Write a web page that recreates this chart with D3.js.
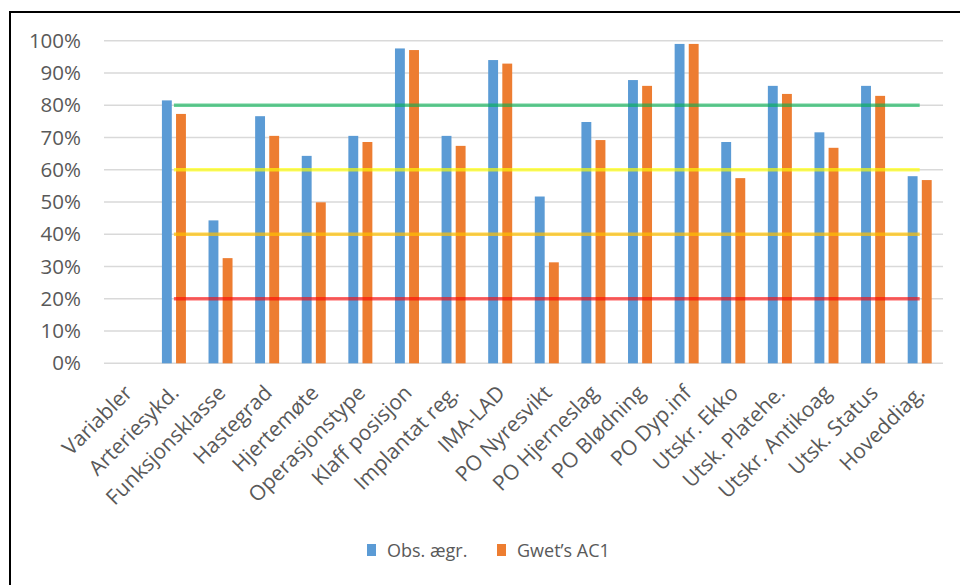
<!DOCTYPE html>
<html>
<head>
<meta charset="utf-8">
<script src="https://cdn.jsdelivr.net/npm/d3@7"></script>
<style>
  html, body { margin: 0; padding: 0; background: #fff; }
  svg { display: block; }
  text { font-family: "Open Sans", sans-serif; fill: #595959; }
</style>
</head>
<body>
<svg id="chart" width="960" height="585"></svg>
<script>
// Variables reviewed for inter-rater agreement
const categories = ["Variabler", "Arteriesykd.", "Funksjonsklasse", "Hastegrad", "Hjertemøte",
  "Operasjonstype", "Klaff posisjon", "Implantat reg.", "IMA-LAD", "PO Nyresvikt",
  "PO Hjerneslag", "PO Blødning", "PO Dyp.inf", "Utskr. Ekko", "Utsk. Platehe.",
  "Utskr. Antikoag", "Utsk. Status", "Hoveddiag."];
// Observed agreement (%), null where no value
const obsAgr = [null, 81.5, 44.3, 76.6, 64.3, 70.5, 97.6, 70.5, 94.0, 51.7,
  74.8, 87.8, 99.0, 68.6, 86.0, 71.6, 86.0, 58.0];
// Gwet's AC1 (%)
const gwetAC1 = [null, 77.3, 32.6, 70.5, 49.9, 68.6, 97.1, 67.4, 92.9, 31.3,
  69.2, 86.0, 99.0, 57.4, 83.5, 66.8, 82.9, 56.8];
const seriesNames = ["Obs. ægr.", "Gwet’s AC1"];
const seriesColors = ["#5b9bd5", "#ed7d31"];
// Agreement threshold lines
const thresholds = [80, 60, 40, 20];
const thresholdColors = ["rgba(0,176,80,0.6)", "rgba(255,255,0,0.65)", "rgba(255,192,0,0.7)", "rgba(255,0,0,0.6)"];
const yTicks = [0, 10, 20, 30, 40, 50, 60, 70, 80, 90, 100];

const svg = d3.select("#chart");

// Outer frame
svg.append("rect")
  .attr("x", 10).attr("y", 12)
  .attr("width", 1000).attr("height", 700)
  .attr("fill", "none").attr("stroke", "#000").attr("stroke-width", 2);

const plot = { left: 104, right: 943, top: 40.7, bottom: 363.3 };

const x = d3.scaleBand().domain(categories).range([plot.left, plot.right]).padding(0);
const y = d3.scaleLinear().domain([0, 100]).range([plot.bottom, plot.top]);

// Horizontal gridlines
svg.append("g").selectAll("line").data(yTicks).join("line")
  .attr("x1", plot.left).attr("x2", plot.right)
  .attr("y1", d => y(d)).attr("y2", d => y(d))
  .attr("stroke", "#d9d9d9").attr("stroke-width", 1.5);

// Y axis labels
const yAxis = d3.axisLeft(y).tickValues(yTicks).tickFormat(d => d + "%").tickSize(0).tickPadding(0);
const yg = svg.append("g").attr("transform", "translate(81,0)").call(yAxis);
yg.select(".domain").remove();
yg.selectAll("text").style("font-size", "20.5px").attr("fill", "#595959")
  .style("font-family", "'Open Sans', sans-serif");

// Grouped bars
const x1 = d3.scaleBand().domain([0, 1]).paddingInner(0.3).paddingOuter(0);
const rows = categories.map((c, i) => ({ cat: c, vals: [obsAgr[i], gwetAC1[i]] }));
const groups = svg.append("g").selectAll("g").data(rows).join("g")
  .attr("transform", d => `translate(${x(d.cat)},0)`);
x1.range([x.bandwidth() / 2 - 12, x.bandwidth() / 2 + 12]);
groups.selectAll("rect")
  .data(d => d.vals.map((v, k) => ({ v, k })).filter(e => e.v != null))
  .join("rect")
  .attr("x", e => x1(e.k))
  .attr("width", x1.bandwidth())
  .attr("y", e => y(e.v))
  .attr("height", e => y(0) - y(e.v))
  .attr("fill", e => seriesColors[e.k]);

// Threshold lines across the reviewed variables
const lineCats = categories.slice(1);
const line = d3.line().x(d => x(d[0]) + x.bandwidth() / 2).y(d => y(d[1]));
svg.append("g").selectAll("path").data(thresholds).join("path")
  .attr("d", t => line(lineCats.map(c => [c, t])))
  .attr("fill", "none")
  .attr("stroke", (t, i) => thresholdColors[i])
  .attr("stroke-width", 3.5);

// Category labels, rotated
svg.append("g").selectAll("text").data(categories).join("text")
  .attr("transform", d => `translate(${x(d) + x.bandwidth() / 2 + 1},389) rotate(-45)`)
  .attr("text-anchor", "end")
  .attr("dy", "0.35em")
  .style("font-size", "21px")
  .text(d => d);

// Legend
const legend = svg.append("g");
const legendX = [367, 497];
seriesNames.forEach((name, k) => {
  legend.append("rect")
    .attr("x", legendX[k]).attr("y", 544)
    .attr("width", 9).attr("height", 12)
    .attr("fill", seriesColors[k]);
  legend.append("text")
    .attr("x", legendX[k] + 20).attr("y", 557)
    .style("font-size", "18px")
    .text(name);
});
</script>
</body>
</html>
